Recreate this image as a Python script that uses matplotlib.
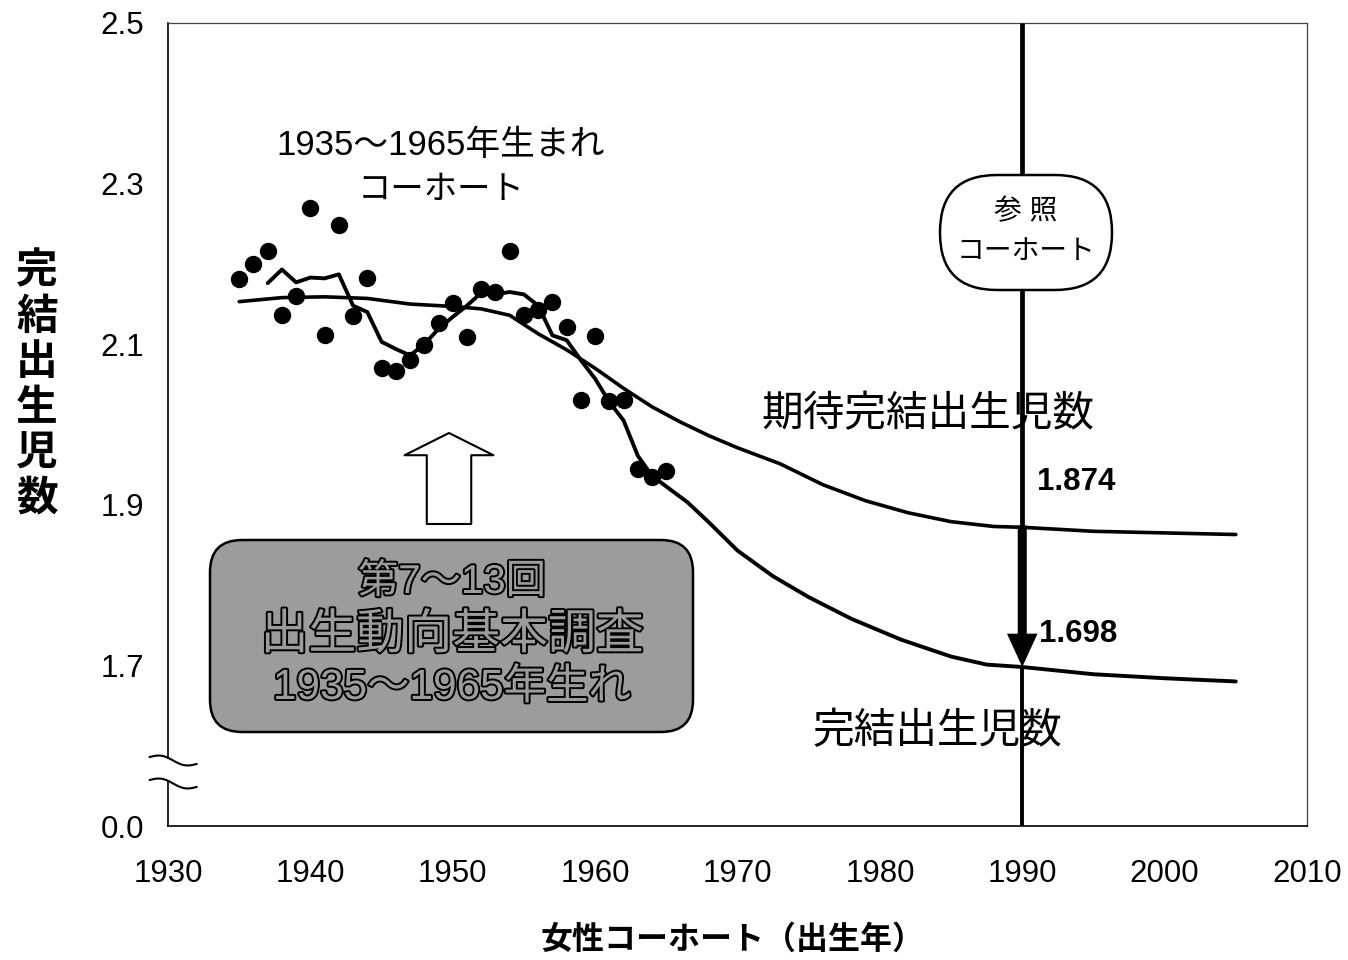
import matplotlib
matplotlib.use('Agg')
import matplotlib.pyplot as plt
import matplotlib.patheffects as pe
import matplotlib.transforms as mtrans
from matplotlib.patches import FancyBboxPatch, FancyArrowPatch, Rectangle, ArrowStyle
import numpy as np

plt.rcParams['font.family'] = ['Liberation Sans', 'Noto Sans CJK JP']

# ---------------- data ----------------
survey_years = list(range(1935, 1966))
survey_values = [2.181, 2.200, 2.216, 2.136, 2.160, 2.269, 2.112, 2.248, 2.135, 2.182,
                 2.070, 2.067, 2.080, 2.099, 2.126, 2.151, 2.109, 2.169, 2.165, 2.216,
                 2.136, 2.143, 2.152, 2.122, 2.030, 2.110, 2.029, 2.031, 1.945, 1.934,
                 1.942]

completed_years = [1937, 1938, 1939, 1940, 1941, 1942, 1943, 1944, 1945, 1946, 1947,
                   1948, 1949, 1950, 1951, 1952, 1953, 1954, 1955, 1956, 1957, 1958,
                   1959, 1960, 1961, 1962, 1963, 1964, 1966.5, 1968, 1970, 1972.5,
                   1975, 1978, 1981.5, 1985, 1987.5, 1990, 1995, 2000, 2005]
completed_values = [2.176, 2.193, 2.177, 2.183, 2.182, 2.187, 2.148, 2.140, 2.103, 2.094,
                    2.086, 2.100, 2.119, 2.134, 2.148, 2.164, 2.162, 2.165, 2.162, 2.148,
                    2.111, 2.105, 2.080, 2.057, 2.028, 2.005, 1.961, 1.936, 1.903, 1.878,
                    1.843, 1.811, 1.785, 1.758, 1.732, 1.711, 1.701, 1.698, 1.689, 1.684,
                    1.680]

expected_years = [1935, 1938, 1941, 1944, 1947, 1950, 1952, 1954, 1956, 1958, 1960,
                  1962, 1964, 1966, 1968, 1970, 1973, 1976, 1979, 1982, 1985, 1988,
                  1990, 1995, 2000, 2005]
expected_values = [2.153, 2.158, 2.159, 2.157, 2.150, 2.147, 2.144, 2.136, 2.113, 2.093,
                   2.070, 2.045, 2.022, 2.003, 1.986, 1.971, 1.951, 1.925, 1.905, 1.890,
                   1.879, 1.873, 1.872, 1.867, 1.865, 1.863]

ref_year = 1990
ref_expected = 1.874
ref_completed = 1.698

x_ticks = [1930, 1940, 1950, 1960, 1970, 1980, 1990, 2000, 2010]
y_ticks = [1.5, 1.7, 1.9, 2.1, 2.3, 2.5]
y_tick_labels = ['0.0', '1.7', '1.9', '2.1', '2.3', '2.5']

# ---------------- figure ----------------
W, H = 1348, 960
fig = plt.figure(figsize=(W / 100, H / 100), dpi=100)
ax_l, ax_r, ax_t, ax_b = 168, 1307, 23, 826
ax = fig.add_axes([ax_l / W, 1 - ax_b / H, (ax_r - ax_l) / W, (ax_b - ax_t) / H])
ax.set_xlim(1930, 2010)
ax.set_ylim(1.5, 2.5)

ax.set_xticks(x_ticks)
ax.set_xticklabels([str(v) for v in x_ticks])
ax.set_yticks(y_ticks)
ax.set_yticklabels(y_tick_labels)
ax.tick_params(axis='both', length=0, labelsize=22.5)
ax.tick_params(axis='x', pad=24)
ax.tick_params(axis='y', pad=17)

for s in ['left', 'bottom']:
    ax.spines[s].set_color('black')
    ax.spines[s].set_linewidth(1.2)
for s in ['top', 'right']:
    ax.spines[s].set_color('#444444')
    ax.spines[s].set_linewidth(0.9)

# data per pixel
dx_px = (2010 - 1930) / (ax_r - ax_l)
dy_px = (2.5 - 1.5) / (ax_b - ax_t)
aspect = dy_px / dx_px


def px_x(p):
    return 1930 + (p - ax_l) * dx_px


def px_y(p):
    return 2.5 - (p - ax_t) * dy_px


# lines
ax.plot(expected_years, expected_values, color='black', lw=2.6, solid_joinstyle='round',
        solid_capstyle='round', zorder=3)
ax.plot(completed_years, completed_values, color='black', lw=2.8, solid_joinstyle='round',
        solid_capstyle='round', zorder=3)
ax.plot(survey_years, survey_values, 'o', color='black', markersize=11.5, zorder=4)

# reference cohort vertical line and arrow
ax.plot([ref_year, ref_year], [ref_expected, 2.5], color='black', lw=3.4, zorder=6,
        solid_capstyle='butt')
ax.plot([ref_year, ref_year], [1.5, ref_completed], color='black', lw=2.8, zorder=6,
        solid_capstyle='butt')
arr = FancyArrowPatch((ref_year, ref_expected), (ref_year, ref_completed),
                      arrowstyle=ArrowStyle('simple', head_length=2.4, head_width=2.2,
                                            tail_width=0.65),
                      mutation_scale=10, shrinkA=0, shrinkB=0, color='black', lw=0,
                      zorder=7)
ax.add_patch(arr)

ax.text(ref_year + 1.05, ref_expected + 0.054, f'{ref_expected:.3f}', fontsize=22.5,
        fontweight='bold', ha='left', va='center', zorder=8)
ax.text(ref_year + 1.2, ref_completed + 0.041, f'{ref_completed:.3f}', fontsize=22.5,
        fontweight='bold', ha='left', va='center', zorder=8)

# oval "参照コーホート"
oval = FancyBboxPatch((px_x(940), px_y(290)), px_x(1112) - px_x(940), px_y(175) - px_y(290),
                      boxstyle=f'round,pad=0,rounding_size={57 * dx_px}',
                      mutation_aspect=aspect, fc='white', ec='black', lw=1.8, zorder=9)
ax.add_patch(oval)
ax.text(px_x(1026), px_y(212), '参 照', fontsize=20, ha='center', va='center', zorder=10)
ax.text(px_x(1026), px_y(252), 'コーホート', fontsize=20, ha='center', va='center', zorder=10)

# curve labels
ax.text(px_x(441), px_y(145), '1935～1965年生まれ', fontsize=25, ha='center', va='center', zorder=5)
ax.text(px_x(441), px_y(190), 'コーホート', fontsize=24, ha='center', va='center', zorder=5)
ax.text(px_x(928), px_y(415), '期待完結出生児数', fontsize=30, ha='center', va='center', zorder=5)
ax.text(px_x(937), px_y(732), '完結出生児数', fontsize=30, ha='center', va='center', zorder=5)

# gray rounded box
bx0, bx1 = px_x(210), px_x(693)
by0, by1 = px_y(732), px_y(540)
box = FancyBboxPatch((bx0, by0), bx1 - bx0, by1 - by0,
                     boxstyle=f'round,pad=0,rounding_size={32 * dx_px}',
                     mutation_aspect=aspect, fc='#9c9c9c', ec='black', lw=1.8, zorder=4)
ax.add_patch(box)
outline = [pe.withStroke(linewidth=2.8, foreground='black')]
bxc = px_x(452)
ax.text(bxc, px_y(582), '第7～13回', fontsize=29, ha='center', va='center', color='#9c9c9c',
        path_effects=outline, zorder=5)
ax.text(bxc, px_y(636), '出生動向基本調査', fontsize=34.5, ha='center', va='center',
        color='#9c9c9c', path_effects=outline, zorder=5)
ax.text(bxc, px_y(688), '1935～1965年生れ', fontsize=30.5, ha='center', va='center',
        color='#9c9c9c', path_effects=outline, zorder=5)

# hollow up arrow
hx = px_x(449)
up = FancyArrowPatch((hx, px_y(524)), (hx, px_y(433)),
                     arrowstyle=ArrowStyle('simple', head_length=1.6, head_width=6.4,
                                           tail_width=3.2),
                     mutation_scale=10, shrinkA=0, shrinkB=0, fc='white', ec='black',
                     lw=1.5, zorder=5)
ax.add_patch(up)

# axis break marks
bt = mtrans.blended_transform_factory(ax.transAxes, ax.transData)
ax.add_patch(Rectangle((-0.006, px_y(781)), 0.012, 22 * dy_px,
                       transform=bt, fc='white', ec='none', clip_on=False, zorder=10))
t = np.linspace(0, 1, 60)
wx = -0.016 + 0.041 * t
for ypx in (757, 780):
    yc = px_y(ypx)
    wy = yc - (7 * t - 3.0 * np.sin(2 * np.pi * t)) * dy_px
    ax.plot(wx, wy, color='black', lw=1.5, transform=bt, clip_on=False, zorder=11)

# axis labels
fig.text(37 / W, 1 - 385 / H, '完\n結\n出\n生\n児\n数', fontsize=30, fontweight='bold',
         ha='center', va='center', linespacing=1.1, family=['Noto Sans CJK JP'])
fig.text(733 / W, 1 - 940 / H, '女性コーホート（出生年）', fontsize=23, fontweight='bold',
         ha='center', va='center', family=['Noto Sans CJK JP'])

fig.savefig('out.png', dpi=100, facecolor='white')
